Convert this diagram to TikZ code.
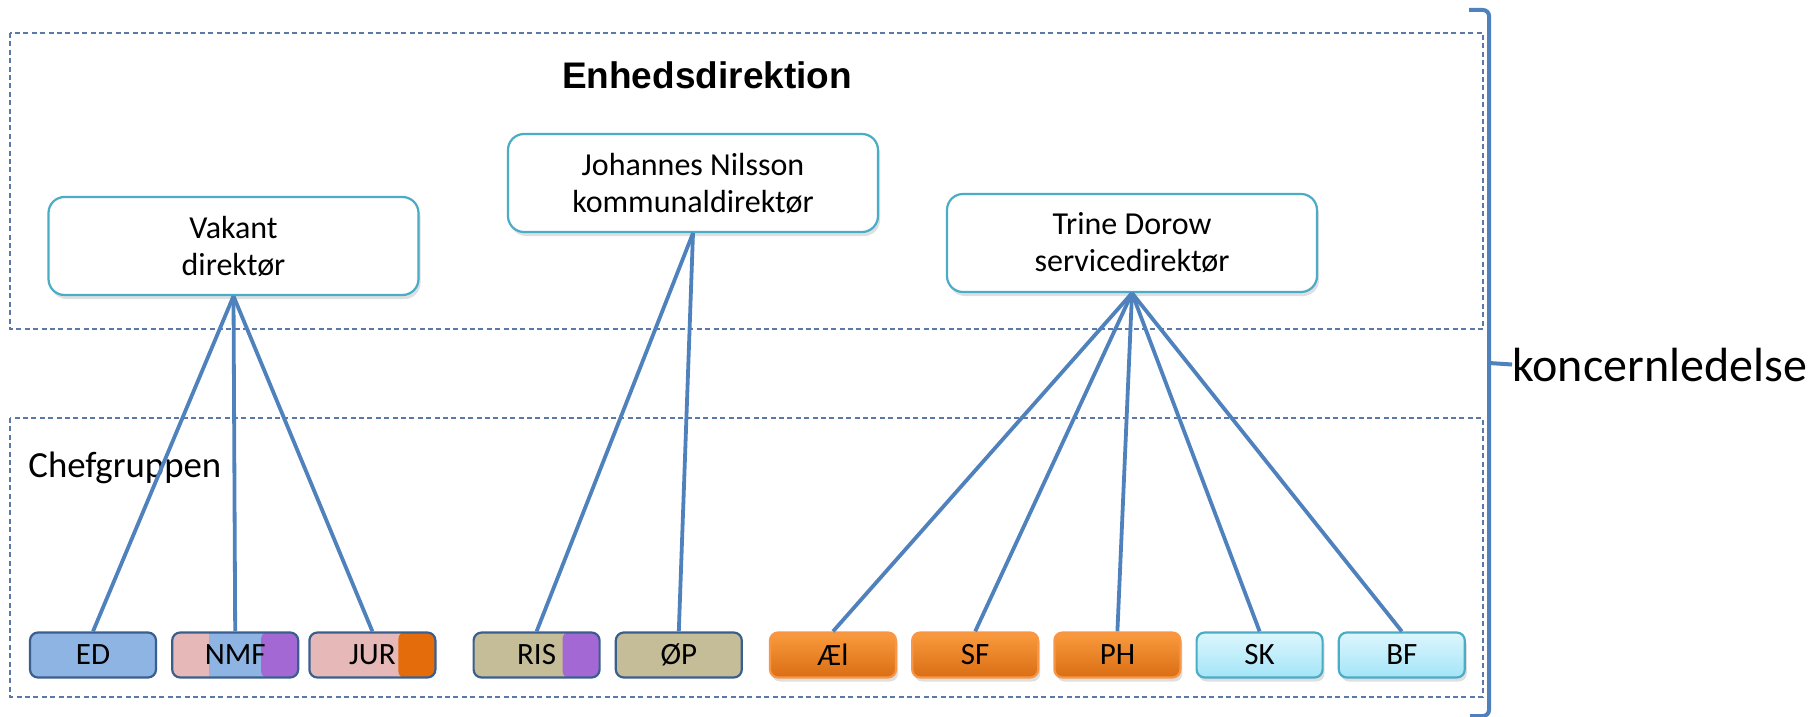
\documentclass[tikz,border=0pt]{standalone}
\usepackage{fontspec}
\setmainfont{Carlito}
\newfontfamily\headfont{Liberation Sans}
\usetikzlibrary{positioning,shadows}
\definecolor{linkblue}{HTML}{4F81BD}
\definecolor{framegrey}{HTML}{5A78A8}
\definecolor{tealline}{HTML}{4BACC6}
\definecolor{unitline}{HTML}{3A5F8E}
\definecolor{unitblue}{HTML}{8EB4E3}
\definecolor{unitpink}{HTML}{E6B9B8}
\definecolor{unitpurple}{HTML}{A468D5}
\definecolor{unitorange}{HTML}{E46C0A}
\definecolor{unittan}{HTML}{C4BD97}
\definecolor{orangetop}{HTML}{FA9A3E}
\definecolor{orangebot}{HTML}{DA6E14}
\definecolor{orangeline}{HTML}{F79646}
\definecolor{cyantop}{HTML}{DDF6FD}
\definecolor{cyanbot}{HTML}{A3E5F8}
\begin{document}
\begin{tikzpicture}[x=.5pt, y=-.5pt,
  frame/.style={draw=framegrey, line width=.6pt, dash pattern=on 2.5pt off 1.7pt},
  director/.style={draw=tealline, line width=1.1pt, fill=white, rounded corners=8pt,
                   minimum width=185pt, minimum height=49pt, align=center,
                   font=\fontsize{16}{18.5}\selectfont,
                   drop shadow={shadow xshift=1pt, shadow yshift=-2pt, opacity=.25}},
  unit/.style={draw=unitline, line width=1.1pt, rounded corners=4pt, inner sep=0pt,
               minimum width=63pt, minimum height=22.5pt,
               font=\fontsize{15.5}{18}\selectfont},
  tabs/.style 2 args={path picture={
      \path[fill=#1, sharp corners] (path picture bounding box.south west)
        rectangle ([xshift=18.5pt]path picture bounding box.north west);
      \path[fill=#2, rounded corners=3pt] ([xshift=-18.5pt]path picture bounding box.south east)
        rectangle (path picture bounding box.north east);}},
  service/.style={unit, draw=orangeline, top color=orangetop, bottom color=orangebot,
                  drop shadow={shadow xshift=1pt, shadow yshift=-2pt, opacity=.25}},
  support/.style={unit, draw=tealline, top color=cyantop, bottom color=cyanbot,
                  drop shadow={shadow xshift=1pt, shadow yshift=-2pt, opacity=.25}},
  link/.style={draw=linkblue, line width=1.9pt},
  brace/.style={draw=linkblue, line width=2pt}
]
\useasboundingbox (0,0) rectangle (1814,717);
\draw[frame] (10,33) rectangle (1483,329);
\draw[frame] (10,418) rectangle (1483,697);
\node[anchor=base, font=\headfont\bfseries\fontsize{18.5}{22}\selectfont] (head) at (707,89) {Enhedsdirektion};
\node[anchor=base west, inner sep=0pt, font=\fontsize{18.4}{22}\selectfont] (chef) at (28,477) {Chefgruppen};
\node[director] (vakant) at (233.5,246) {Vakant\\direktør};
\node[director] (johannes) at (693,183) {Johannes Nilsson\\kommunaldirektør};
\node[director] (trine) at (1132,243) {Trine Dorow\\servicedirektør};
\node[unit, fill=unitblue] (ed) at (93,655) {ED};
\node[unit, fill=unitblue, tabs={unitpink}{unitpurple}, right=7pt of ed] (nmf) {NMF};
\node[unit, fill=unitpink, tabs={none}{unitorange}, right=4.5pt of nmf] (jur) {JUR};
\node[unit, fill=unittan, tabs={none}{unitpurple}, right=18pt of jur] (ris) {RIS};
\node[unit, fill=unittan, right=7pt of ris] (op) {ØP};
\node[service, right=13pt of op] (ael) {Æl};
\node[service, right=7pt of ael] (sf) {SF};
\node[service, right=7pt of sf] (ph) {PH};
\node[support, right=7pt of ph] (sk) {SK};
\node[support, right=7pt of sk] (bf) {BF};
\draw[link] (vakant.south) -- (ed.north);
\draw[link] (vakant.south) -- (nmf.north);
\draw[link] (vakant.south) -- (jur.north);
\draw[link] (johannes.south) -- (ris.north);
\draw[link] (johannes.south) -- (op.north);
\draw[link] (trine.south) -- (ael.north);
\draw[link] (trine.south) -- (sf.north);
\draw[link] (trine.south) -- (ph.north);
\draw[link] (trine.south) -- (sk.north);
\draw[link] (trine.south) -- (bf.north);
\draw[brace, rounded corners=3pt] (1469,10) -- (1489,10) -- (1489,716) -- (1470,716);
\node[anchor=base west, inner sep=0pt, font=\fontsize{24}{28}\selectfont] (konc) at (1512,381) {koncernledelse};
\coordinate (tip) at (1489,363);
\draw[brace] (tip) -- (konc.west);
\end{tikzpicture}
\end{document}
